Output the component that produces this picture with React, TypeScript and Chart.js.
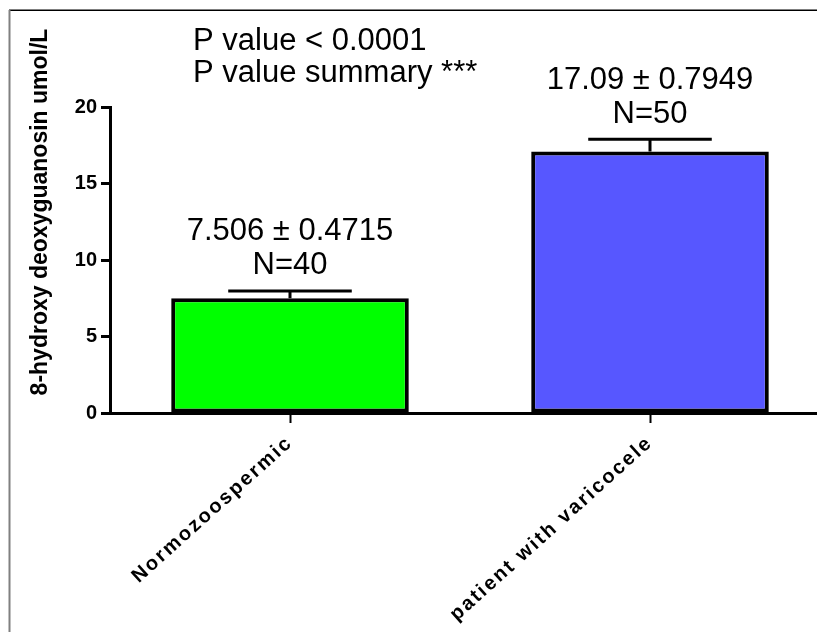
import React, { useEffect, useRef } from "react";
import { Chart, registerables } from "chart.js";

Chart.register(...registerables);

// ---- data ----
const categories = ["Normozoospermic", "patient with varicocele"];
const means = [7.506, 17.09];
const sems = [0.4715, 0.7949];
const counts = [40, 50];
const barColors = ["#00FF00", "#5757FF"];
const yTickValues = [0, 5, 10, 15, 20];
const yTitle = "8-hydroxy deoxyguanosin umol/L";
const pLines = ["P value < 0.0001", "P value summary ***"];

const FONT = "'Liberation Sans', Arial, Helvetica, sans-serif";
const CANVAS_W = 850;
const CANVAS_H = 632;

export default function App() {
  const ref = useRef<HTMLCanvasElement | null>(null);

  useEffect(() => {
    const canvas = ref.current;
    if (!canvas) return;

    const framePlugin = {
      id: "frame",
      beforeDraw(chart: any) {
        const ctx = chart.ctx;
        ctx.save();
        ctx.fillStyle = "#ffffff";
        ctx.fillRect(0, 0, chart.width, chart.height);
        ctx.fillStyle = "#000000";
        ctx.fillRect(9, 9.5, chart.width, 1.5);
        ctx.fillStyle = "#808080";
        ctx.fillRect(8.5, 10, 2, chart.height);
        ctx.restore();
      },
    };

    const errorBarPlugin = {
      id: "errorBars",
      afterDatasetsDraw(chart: any) {
        const ctx = chart.ctx;
        const meta = chart.getDatasetMeta(0);
        const y = chart.scales.y;
        ctx.save();
        ctx.strokeStyle = "#000000";
        ctx.lineWidth = 3;
        ctx.lineCap = "butt";
        meta.data.forEach((bar: any, i: number) => {
          const x = bar.x;
          const half = bar.width * 0.26;
          const yTop = y.getPixelForValue(means[i] + sems[i]);
          const yMean = y.getPixelForValue(means[i]);
          ctx.beginPath();
          ctx.moveTo(x, yMean);
          ctx.lineTo(x, yTop);
          ctx.moveTo(x - half, yTop);
          ctx.lineTo(x + half, yTop);
          ctx.stroke();
        });
        ctx.restore();
        // spacing for the x tick labels, drawn after datasets (z = 1)
        (ctx as any).letterSpacing = "2.2px";
      },
      afterDraw(chart: any) {
        (chart.ctx as any).letterSpacing = "0px";
      },
    };

    const textPlugin = {
      id: "texts",
      afterDraw(chart: any) {
        const ctx = chart.ctx;
        const area = chart.chartArea;
        const y = chart.scales.y;
        const meta = chart.getDatasetMeta(0);
        ctx.save();
        (ctx as any).letterSpacing = "0px";
        ctx.fillStyle = "#000000";

        // P value block
        ctx.font = `31px ${FONT}`;
        ctx.textAlign = "left";
        ctx.textBaseline = "middle";
        pLines.forEach((t, k) => {
          ctx.fillText(t, area.left + 83, area.top - 66 + k * 32);
        });

        // mean ± sem, N labels
        ctx.textAlign = "center";
        meta.data.forEach((bar: any, i: number) => {
          const yTop = y.getPixelForValue(means[i] + sems[i]);
          ctx.fillText(`${means[i]} ± ${sems[i]}`, bar.x, yTop - 59);
          ctx.fillText(`N=${counts[i]}`, bar.x, yTop - 25);
        });

        // y-axis title
        ctx.font = `bold 23px ${FONT}`;
        ctx.translate(41, 212);
        ctx.rotate(-Math.PI / 2);
        ctx.textAlign = "center";
        ctx.textBaseline = "middle";
        ctx.fillText(yTitle, 0, 0);
        ctx.restore();
      },
    };

    const chart = new Chart(canvas, {
      type: "bar",
      data: {
        labels: categories,
        datasets: [
          {
            data: means,
            backgroundColor: barColors,
            borderColor: "#000000",
            borderWidth: 4,
            borderSkipped: false,
            categoryPercentage: 1,
            barPercentage: 0.66,
          },
        ],
      },
      options: {
        responsive: false,
        animation: false,
        devicePixelRatio: 1,
        layout: { padding: { left: 0, top: 107, right: 20, bottom: 0 } },
        plugins: {
          legend: { display: false },
          tooltip: { enabled: false },
          title: { display: false },
        },
        scales: {
          x: {
            type: "category",
            offset: true,
            border: { display: true, color: "#000000", width: 3 },
            grid: {
              display: true,
              offset: false,
              drawOnChartArea: false,
              drawTicks: true,
              tickLength: 10,
              tickWidth: 2,
              tickColor: "#000000",
            },
            ticks: {
              z: 1,
              color: "#000000",
              font: { family: FONT, size: 20, weight: "bold" },
              minRotation: 42,
              maxRotation: 42,
              padding: 8,
              autoSkip: false,
            },
            afterFit(scale: any) {
              scale.height = CANVAS_H - 413;
            },
          },
          y: {
            type: "linear",
            min: 0,
            max: 20,
            border: { display: true, color: "#000000", width: 3 },
            grid: {
              display: true,
              drawOnChartArea: false,
              drawTicks: true,
              tickLength: 9,
              tickWidth: 3,
              tickColor: "#000000",
            },
            afterBuildTicks(scale: any) {
              scale.ticks = yTickValues.map((v) => ({ value: v }));
            },
            ticks: {
              color: "#000000",
              font: { family: FONT, size: 20, weight: "bold" },
              padding: 4,
            },
            afterFit(scale: any) {
              scale.width = 110;
            },
          },
        },
      },
      plugins: [framePlugin, errorBarPlugin, textPlugin],
    } as any);

    return () => {
      chart.destroy();
    };
  }, []);

  return (
    <div
      style={{
        position: "fixed",
        left: 0,
        top: 0,
        width: 817,
        height: 632,
        overflow: "hidden",
        background: "#ffffff",
      }}
    >
      <canvas
        ref={ref}
        width={CANVAS_W}
        height={CANVAS_H}
        style={{ display: "block", width: CANVAS_W, height: CANVAS_H }}
      />
    </div>
  );
}
